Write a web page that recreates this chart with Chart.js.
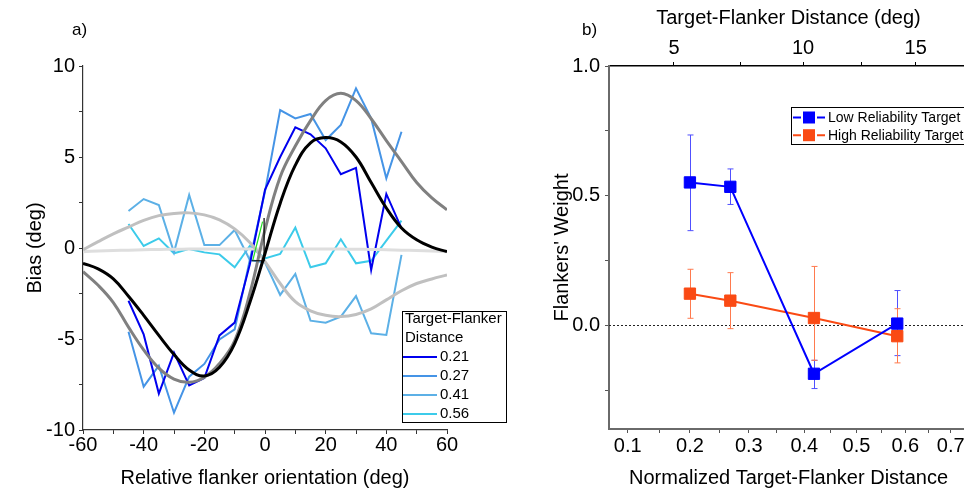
<!DOCTYPE html>
<html>
<head>
<meta charset="utf-8">
<script src="https://cdn.jsdelivr.net/npm/chart.js@4.4.1/dist/chart.umd.min.js"></script>
<style>
  html, body { margin: 0; padding: 0; background: #fff; overflow: hidden; width: 964px; height: 490px; }
  #wrapA { position: absolute; left: 0; top: 0; width: 540px; height: 490px; }
  #wrapB { position: absolute; left: 540px; top: 0; width: 480px; height: 490px; }
</style>
</head>
<body>
<div id="wrapA"><canvas id="biasChart" width="540" height="490"></canvas></div>
<div id="wrapB"><canvas id="weightChart" width="480" height="490"></canvas></div>
<script>
// a) bias vs flanker orientation, b) flankers' weight vs distance
const FONT = '"Liberation Sans", Arial, sans-serif';

// ---- panel a data ----
const orientations = [-45, -40, -35, -30, -25, -20, -15, -10, -5, 0, 5, 10, 15, 20, 25, 30, 35, 40, 45];
const distanceLabels = ['0.21', '0.27', '0.41', '0.56'];
const bias021 = [-2.9, -4.75, -8.0, -5.75, -7.55, -7.15, -4.8, -4.1, -0.9, 3.2, 5.0, 6.63, 6.25, 5.48, 4.05, 4.4, -1.2, 2.97, 1.08];
const bias027 = [-4.6, -7.62, -6.47, -9.05, -7.07, -6.37, -5.02, -4.47, -0.66, 3.1, 7.58, 7.12, 7.36, 5.93, 6.76, 8.77, 7.12, 3.83, 6.39];
const bias041 = [2.03, 2.69, 2.36, -0.24, 2.91, 0.16, 0.16, 0.99, -0.66, -0.8, -2.58, -1.43, -3.99, -4.1, -3.77, -2.64, -4.69, -4.78, -0.38];
const bias056 = [1.32, 0.11, 0.53, -0.29, -0.05, -0.24, -0.35, -1.06, 0.11, -0.57, -0.33, 1.12, -1.06, -0.84, 0.48, -0.84, -0.7, 0.4, 1.5];

const fitOrientations = [-60, -55, -50, -45, -40, -35, -30, -25, -20, -15, -10, -5, 0, 5, 10, 15, 20, 25, 30, 35, 40, 45, 50, 55, 60];
const fit021 = [-0.84, -1.15, -1.7, -2.65, -3.7, -4.8, -5.85, -6.7, -7.03, -6.55, -5.25, -3.0, -0.3, 2.45, 4.55, 5.78, 6.07, 5.83, 5.0, 3.6, 2.2, 1.1, 0.45, 0.05, -0.2];
const fit027 = [-1.3, -2.05, -3.0, -4.35, -5.6, -6.6, -7.2, -7.38, -7.1, -6.35, -5.1, -2.5, 1.0, 3.9, 5.6, 7.0, 8.1, 8.5, 8.1, 7.1, 5.9, 4.75, 3.6, 2.75, 2.1];
const fit041 = [-0.1, 0.35, 0.78, 1.15, 1.52, 1.78, 1.9, 1.93, 1.82, 1.55, 1.05, 0.3, -0.75, -1.95, -2.95, -3.45, -3.7, -3.77, -3.65, -3.35, -2.85, -2.35, -1.95, -1.7, -1.48];
const fit056 = [-0.2, -0.17, -0.14, -0.12, -0.1, -0.08, -0.07, -0.06, -0.05, -0.05, -0.05, -0.05, -0.05, -0.05, -0.05, -0.05, -0.05, -0.06, -0.07, -0.08, -0.1, -0.12, -0.14, -0.17, -0.2];

// small stray marks near the origin
const strayGreenX = [-4.0, -0.8];
const strayGreenY = [-0.66, 1.45];
const strayBlackX = [-4.4, -0.3, -0.3];
const strayBlackY = [-0.7, -0.7, 1.65];

const xTicksA = [-60, -50, -40, -30, -20, -10, 0, 10, 20, 30, 40, 50, 60];
const xLabelsA = [-60, -40, -20, 0, 20, 40, 60];
const yTicksA = [-10, -7.5, -5, -2.5, 0, 2.5, 5, 7.5, 10];
const yLabelsA = [-10, -5, 0, 5, 10];

// ---- panel b data ----
const normDistance = [0.2, 0.268, 0.418, 0.583];
const lowWeight = [0.551, 0.534, -0.187, 0.0065];
const lowUpper = [0.734, 0.603, -0.135, 0.134];
const lowLower = [0.365, 0.466, -0.244, -0.117];
const highWeight = [0.122, 0.095, 0.028, -0.042];
const highUpper = [0.216, 0.203, 0.227, 0.064];
const highLower = [0.027, -0.013, -0.135, -0.145];

const xTicksB = [0.1, 0.15, 0.2, 0.25, 0.3, 0.35, 0.4, 0.45, 0.5, 0.55, 0.6, 0.65, 0.7];
const xLabelsB = [0.1, 0.2, 0.3, 0.4, 0.5, 0.6, 0.7];
const degTicks = [5, 7.5, 10, 12.5, 15, 17.5];
const degLabels = [5, 10, 15];
const yTicksB = [-0.25, 0, 0.25, 0.5, 0.75, 1.0];
const yLabelsB = [0, 0.5, 1.0];

Chart.defaults.font.family = FONT;
Chart.defaults.color = '#000';

// linear scale with a gentle quadratic squeeze towards the right end
class WarpScale extends Chart.LinearScale {
    _g(v) { const c = this.options.curve || 0; return v - c * v * v; }
    getPixelForValue(value) {
        if (value === null || value === undefined || isNaN(value)) return NaN;
        const a = this._g(this.min), b = this._g(this.max);
        return this.getPixelForDecimal((this._g(value) - a) / (b - a));
    }
    getValueForPixel(pixel) {
        const c = this.options.curve || 0;
        const a = this._g(this.min), b = this._g(this.max);
        const g = a + this.getDecimalForPixel(pixel) * (b - a);
        return c ? (1 - Math.sqrt(1 - 4 * c * g)) / (2 * c) : g;
    }
}
WarpScale.id = 'warp';
WarpScale.defaults = Chart.LinearScale.defaults;
Chart.register(WarpScale);

function pts(xs, ys) { return xs.map((x, i) => ({ x: x, y: ys[i] })); }
function setTicks(list) { return s => { s.ticks = list.map(v => ({ value: v })); }; }
function labelIf(list, fmt) { return v => list.some(l => Math.abs(l - v) < 1e-9) ? fmt(v) : ''; }

const panelTag = {
    id: 'panelTag',
    afterDraw(chart, args, o) {
        const ctx = chart.ctx;
        ctx.save();
        ctx.font = '17px ' + FONT;
        ctx.fillStyle = '#000';
        ctx.fillText(o.text, o.x, o.y);
        ctx.restore();
    }
};

const orientLegend = {
    id: 'orientLegend',
    afterDraw(chart, args, o) {
        const ctx = chart.ctx;
        ctx.save();
        ctx.fillStyle = '#fff';
        ctx.fillRect(o.x, o.y, o.w, o.h);
        ctx.strokeStyle = '#000';
        ctx.lineWidth = 1;
        ctx.strokeRect(o.x + 0.5, o.y + 0.5, o.w, o.h);
        ctx.font = o.size + 'px ' + FONT;
        ctx.textBaseline = 'middle';
        ctx.fillStyle = '#000';
        o.title.forEach((t, i) => ctx.fillText(t, o.x + 3, o.y + 8 + i * 19));
        chart.data.datasets.filter(d => d.legendLabel).forEach((d, i) => {
            const y = o.y + 46 + i * 19;
            ctx.strokeStyle = d.borderColor;
            ctx.lineWidth = 2;
            ctx.beginPath(); ctx.moveTo(o.x + 1, y); ctx.lineTo(o.x + 35, y); ctx.stroke();
            ctx.fillStyle = '#000';
            ctx.fillText(d.legendLabel, o.x + 38, y);
        });
        ctx.restore();
    }
};

const zeroLine = {
    id: 'zeroLine',
    beforeDatasetsDraw(chart) {
        const { ctx, chartArea, scales } = chart;
        const y = Math.round(scales.y.getPixelForValue(0)) + 0.5;
        ctx.save();
        ctx.strokeStyle = '#222';
        ctx.lineWidth = 1;
        ctx.setLineDash([2, 2]);
        ctx.beginPath(); ctx.moveTo(chartArea.left, y); ctx.lineTo(chartArea.right, y); ctx.stroke();
        ctx.restore();
    }
};

const errorBars = {
    id: 'errorBars',
    beforeDatasetsDraw(chart) {
        const ctx = chart.ctx;
        const ys = chart.scales.y;
        chart.data.datasets.forEach((d, di) => {
            if (!d.errUp) return;
            const meta = chart.getDatasetMeta(di);
            ctx.save();
            ctx.strokeStyle = d.errColor;
            ctx.lineWidth = 1;
            meta.data.forEach((p, i) => {
                const x = Math.round(p.x) + 0.5;
                const t = ys.getPixelForValue(d.errUp[i]);
                const b = ys.getPixelForValue(d.errDown[i]);
                ctx.beginPath();
                ctx.moveTo(x, t); ctx.lineTo(x, b);
                ctx.moveTo(x - 3, t); ctx.lineTo(x + 3, t);
                ctx.moveTo(x - 3, b); ctx.lineTo(x + 3, b);
                ctx.stroke();
            });
            ctx.restore();
        });
    }
};

const weightLegend = {
    id: 'weightLegend',
    afterDraw(chart, args, o) {
        const ctx = chart.ctx;
        ctx.save();
        ctx.fillStyle = '#fff';
        ctx.fillRect(o.x, o.y, o.w, o.h);
        ctx.strokeStyle = '#000';
        ctx.lineWidth = 1;
        ctx.strokeRect(o.x + 0.5, o.y + 0.5, o.w, o.h);
        ctx.font = o.size + 'px ' + FONT;
        ctx.textBaseline = 'middle';
        chart.data.datasets.forEach((d, i) => {
            const y = o.y + 10.5 + i * 17.7;
            const cx = o.x + 18;
            ctx.strokeStyle = d.borderColor;
            ctx.lineWidth = 2;
            ctx.beginPath();
            ctx.moveTo(o.x + 2, y); ctx.lineTo(cx - 8, y);
            ctx.moveTo(cx + 8, y); ctx.lineTo(cx + 16, y);
            ctx.stroke();
            ctx.fillStyle = d.pointBackgroundColor;
            ctx.fillRect(cx - 6, y - 6, 12, 12);
            ctx.fillStyle = '#000';
            ctx.fillText(d.label, o.x + 37, y + 0.5);
        });
        ctx.restore();
    }
};

function dataLine(label, ys, color) {
    return { legendLabel: label, data: pts(orientations, ys), borderColor: color, borderWidth: 2, pointRadius: 0, tension: 0 };
}
function fitLine(ys, color) {
    return { data: pts(fitOrientations, ys), borderColor: color, borderWidth: 3, pointRadius: 0, tension: 0.4 };
}
function strayLine(xs, ys, color) {
    return { data: pts(xs, ys), borderColor: color, borderWidth: 1.2, pointRadius: 0, tension: 0 };
}

new Chart(document.getElementById('biasChart'), {
    type: 'line',
    data: {
        datasets: [
            strayLine(strayGreenX, strayGreenY, '#22dd22'),
            strayLine(strayBlackX, strayBlackY, '#000000'),
            fitLine(fit021, '#000000'),
            fitLine(fit027, '#808080'),
            fitLine(fit041, '#c0c0c0'),
            fitLine(fit056, '#dedede'),
            dataLine(distanceLabels[0], bias021, '#0000ee'),
            dataLine(distanceLabels[1], bias027, '#4594e6'),
            dataLine(distanceLabels[2], bias041, '#5cb0e6'),
            dataLine(distanceLabels[3], bias056, '#3ccbea')
        ]
    },
    options: {
        responsive: false,
        animation: false,
        layout: { padding: { left: 0, top: 66, right: 93, bottom: 0 } },
        plugins: {
            legend: { display: false },
            tooltip: { enabled: false },
            panelTag: { text: 'a)', x: 72, y: 35 },
            orientLegend: { x: 402, y: 311, w: 104, h: 111, size: 15, title: ['Target-Flanker', 'Distance'] }
        },
        scales: {
            x: {
                type: 'linear', min: -60, max: 60,
                afterBuildTicks: setTicks(xTicksA),
                afterFit: s => { s.height = 60; },
                ticks: { autoSkip: false, maxRotation: 0, padding: 1, font: { size: 20, lineHeight: 1 }, callback: labelIf(xLabelsA, v => String(v)) },
                grid: { drawOnChartArea: false, tickLength: 4, tickColor: '#333', tickWidth: 1 },
                border: { color: '#333', width: 1.2 },
                title: { display: true, text: 'Relative flanker orientation (deg)', font: { size: 20 }, padding: { top: 0, bottom: 0 } }
            },
            y: {
                type: 'linear', min: -10, max: 10,
                afterBuildTicks: setTicks(yTicksA),
                afterFit: s => { s.width = 83; },
                ticks: { autoSkip: false, padding: 4, font: { size: 20, lineHeight: 1 }, callback: labelIf(yLabelsA, v => String(v)) },
                grid: { drawOnChartArea: false, tickLength: 4, tickColor: '#333', tickWidth: 1 },
                border: { color: '#333', width: 1.2 },
                title: { display: true, text: 'Bias (deg)', font: { size: 20 }, padding: { top: 23, bottom: 0 } }
            }
        }
    },
    plugins: [orientLegend, panelTag]
});

new Chart(document.getElementById('weightChart'), {
    type: 'line',
    data: {
        datasets: [
            {
                label: 'Low Reliability Target', data: pts(normDistance, lowWeight),
                errUp: lowUpper, errDown: lowLower, errColor: '#5050ff',
                borderColor: '#0000ff', borderWidth: 2, pointStyle: 'rect', pointRadius: 8,
                pointBackgroundColor: '#0000ff', pointBorderColor: '#0000ff', pointBorderWidth: 1, tension: 0
            },
            {
                label: 'High Reliability Target', data: pts(normDistance, highWeight),
                errUp: highUpper, errDown: highLower, errColor: '#ff7a4e',
                borderColor: '#fa4a14', borderWidth: 2, pointStyle: 'rect', pointRadius: 8,
                pointBackgroundColor: '#fa4a14', pointBorderColor: '#fa4a14', pointBorderWidth: 1, tension: 0
            }
        ]
    },
    options: {
        responsive: false,
        animation: false,
        layout: { padding: { left: 0, top: 0, right: 52, bottom: 0 } },
        plugins: {
            legend: { display: false },
            tooltip: { enabled: false },
            panelTag: { text: 'b)', x: 42, y: 35 },
            weightLegend: { x: 251, y: 107, w: 220, h: 37, size: 14 }
        },
        scales: {
            x: {
                type: 'warp', position: 'bottom', min: 0.071, max: 0.74, curve: 0.2495,
                afterBuildTicks: setTicks(xTicksB),
                afterFit: s => { s.height = 61; },
                ticks: { autoSkip: false, maxRotation: 0, padding: 3, font: { size: 20, lineHeight: 1 }, callback: labelIf(xLabelsB, v => v.toFixed(1)) },
                grid: { drawOnChartArea: false, tickLength: 4, tickColor: '#555', tickWidth: 1 },
                border: { color: '#6a6a6a', width: 2 },
                title: { display: true, text: 'Normalized Target-Flanker Distance', font: { size: 20 }, padding: { top: 0, bottom: 0 } }
            },
            x2: {
                type: 'warp', position: 'top', min: 2.7, max: 17.62, curve: 0.01077,
                afterBuildTicks: setTicks(degTicks),
                afterFit: s => { s.height = 66; },
                ticks: { autoSkip: false, maxRotation: 0, padding: 3.7, font: { size: 20, lineHeight: 1 }, callback: labelIf(degLabels, v => String(v)) },
                grid: { drawOnChartArea: false, tickLength: 4, tickColor: '#000', tickWidth: 1 },
                border: { color: '#000', width: 1.5 },
                title: { display: true, text: 'Target-Flanker Distance (deg)', font: { size: 20 }, padding: { top: 6, bottom: 0 } }
            },
            y: {
                type: 'linear', min: -0.4, max: 1.0,
                afterBuildTicks: setTicks(yTicksB),
                afterFit: s => { s.width = 69; },
                ticks: { autoSkip: false, padding: 5, font: { size: 20, lineHeight: 1 }, callback: labelIf(yLabelsB, v => v.toFixed(1)) },
                grid: { drawOnChartArea: false, tickLength: 4, tickColor: '#555', tickWidth: 1 },
                border: { color: '#6a6a6a', width: 2 },
                title: { display: true, text: "Flankers' Weight", font: { size: 20 }, padding: { top: 10, bottom: 0 } }
            }
        }
    },
    plugins: [zeroLine, errorBars, weightLegend, panelTag]
});
</script>
</body>
</html>
